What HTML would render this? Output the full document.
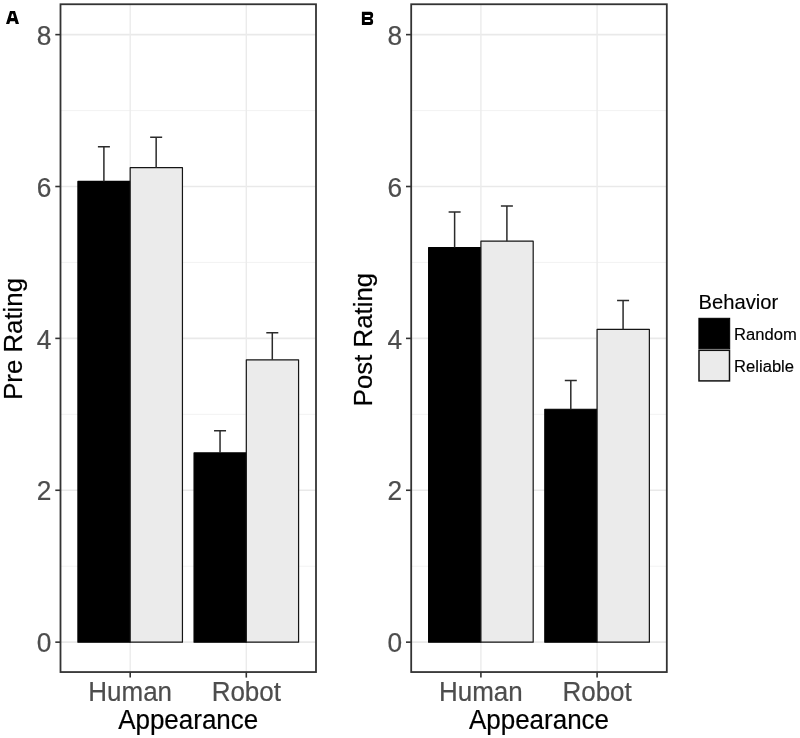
<!DOCTYPE html>
<html><head><meta charset="utf-8"><title>Figure</title>
<style>
html,body{margin:0;padding:0;background:#fff;}
svg{display:block;will-change:transform;font-family:"Liberation Sans",sans-serif;}
</style></head><body>
<svg width="800" height="738" viewBox="0 0 800 738">
<rect x="0" y="0" width="800" height="738" fill="#ffffff"/>

<line x1="60.5" x2="316.0" y1="566.21" y2="566.21" stroke="#f0f0f0" stroke-width="0.9"/>
<line x1="60.5" x2="316.0" y1="414.33" y2="414.33" stroke="#f0f0f0" stroke-width="0.9"/>
<line x1="60.5" x2="316.0" y1="262.45" y2="262.45" stroke="#f0f0f0" stroke-width="0.9"/>
<line x1="60.5" x2="316.0" y1="110.57" y2="110.57" stroke="#f0f0f0" stroke-width="0.9"/>
<line x1="60.5" x2="316.0" y1="642.15" y2="642.15" stroke="#e9e9e9" stroke-width="1.7"/>
<line x1="60.5" x2="316.0" y1="490.27" y2="490.27" stroke="#e9e9e9" stroke-width="1.7"/>
<line x1="60.5" x2="316.0" y1="338.39" y2="338.39" stroke="#e9e9e9" stroke-width="1.7"/>
<line x1="60.5" x2="316.0" y1="186.51" y2="186.51" stroke="#e9e9e9" stroke-width="1.7"/>
<line x1="60.5" x2="316.0" y1="34.63" y2="34.63" stroke="#e9e9e9" stroke-width="1.7"/>
<line x1="130.2" x2="130.2" y1="4.25" y2="672.0" stroke="#ebebeb" stroke-width="1.4"/>
<line x1="246.3" x2="246.3" y1="4.25" y2="672.0" stroke="#ebebeb" stroke-width="1.4"/>
<rect x="77.92" y="181.38" width="52.26" height="460.82" fill="#000000" stroke="#000" stroke-width="1.2" stroke-linejoin="round"/>
<rect x="130.18" y="167.70" width="52.26" height="474.50" fill="#ebebeb" stroke="#151515" stroke-width="1.2" stroke-linejoin="round"/>
<rect x="194.06" y="452.93" width="52.26" height="189.27" fill="#000000" stroke="#000" stroke-width="1.2" stroke-linejoin="round"/>
<rect x="246.32" y="359.83" width="52.26" height="282.37" fill="#ebebeb" stroke="#151515" stroke-width="1.2" stroke-linejoin="round"/>
<path d="M103.90 181.38V146.75M97.90 146.75H109.90" stroke="#2b2b2b" stroke-width="1.5" fill="none"/>
<path d="M156.16 167.70V137.30M150.16 137.30H162.16" stroke="#2b2b2b" stroke-width="1.5" fill="none"/>
<path d="M220.04 452.93V430.80M214.04 430.80H226.04" stroke="#2b2b2b" stroke-width="1.5" fill="none"/>
<path d="M272.30 359.83V332.80M266.30 332.80H278.30" stroke="#2b2b2b" stroke-width="1.5" fill="none"/>
<rect x="60.5" y="4.25" width="255.5" height="667.8" fill="none" stroke="#333" stroke-width="1.8"/>
<line x1="55.3" x2="60.5" y1="642.15" y2="642.15" stroke="#333" stroke-width="1.6"/>
<text transform="translate(51.3,652.2) scale(1,1.07)" font-size="26.3" fill="#4d4d4d" stroke="#4d4d4d" stroke-width="0.2" text-anchor="end">0</text>
<line x1="55.3" x2="60.5" y1="490.27" y2="490.27" stroke="#333" stroke-width="1.6"/>
<text transform="translate(51.3,500.4) scale(1,1.07)" font-size="26.3" fill="#4d4d4d" stroke="#4d4d4d" stroke-width="0.2" text-anchor="end">2</text>
<line x1="55.3" x2="60.5" y1="338.39" y2="338.39" stroke="#333" stroke-width="1.6"/>
<text transform="translate(51.3,348.5) scale(1,1.07)" font-size="26.3" fill="#4d4d4d" stroke="#4d4d4d" stroke-width="0.2" text-anchor="end">4</text>
<line x1="55.3" x2="60.5" y1="186.51" y2="186.51" stroke="#333" stroke-width="1.6"/>
<text transform="translate(51.3,196.6) scale(1,1.07)" font-size="26.3" fill="#4d4d4d" stroke="#4d4d4d" stroke-width="0.2" text-anchor="end">6</text>
<line x1="55.3" x2="60.5" y1="34.63" y2="34.63" stroke="#333" stroke-width="1.6"/>
<text transform="translate(51.3,44.7) scale(1,1.07)" font-size="26.3" fill="#4d4d4d" stroke="#4d4d4d" stroke-width="0.2" text-anchor="end">8</text>
<line x1="130.2" x2="130.2" y1="672.0" y2="677.6" stroke="#333" stroke-width="1.6"/>
<text transform="translate(130.2,700.5) scale(1,1.03)" font-size="26" fill="#4d4d4d" stroke="#4d4d4d" stroke-width="0.2" text-anchor="middle">Human</text>
<line x1="246.3" x2="246.3" y1="672.0" y2="677.6" stroke="#333" stroke-width="1.6"/>
<text transform="translate(246.3,700.5) scale(1,1.03)" font-size="26" fill="#4d4d4d" stroke="#4d4d4d" stroke-width="0.2" text-anchor="middle">Robot</text>
<text transform="translate(188.2,729) scale(1,1.03)" font-size="26" fill="#000" stroke="#000" stroke-width="0.2" text-anchor="middle">Appearance</text>
<text transform="translate(22.4,338.9) rotate(-90) scale(1,1.035)" font-size="25.8" fill="#000" stroke="#000" stroke-width="0.2" text-anchor="middle">Pre Rating</text>
<path fill-rule="evenodd" fill="#000" d="M10 10.9H15L19 24H15.7L14.9 21.3H10.1L9.3 24H6ZM12 13.8H13L14.1 18H10.9Z"/>
<line x1="411.2" x2="666.8" y1="566.21" y2="566.21" stroke="#f0f0f0" stroke-width="0.9"/>
<line x1="411.2" x2="666.8" y1="414.33" y2="414.33" stroke="#f0f0f0" stroke-width="0.9"/>
<line x1="411.2" x2="666.8" y1="262.45" y2="262.45" stroke="#f0f0f0" stroke-width="0.9"/>
<line x1="411.2" x2="666.8" y1="110.57" y2="110.57" stroke="#f0f0f0" stroke-width="0.9"/>
<line x1="411.2" x2="666.8" y1="642.15" y2="642.15" stroke="#e9e9e9" stroke-width="1.7"/>
<line x1="411.2" x2="666.8" y1="490.27" y2="490.27" stroke="#e9e9e9" stroke-width="1.7"/>
<line x1="411.2" x2="666.8" y1="338.39" y2="338.39" stroke="#e9e9e9" stroke-width="1.7"/>
<line x1="411.2" x2="666.8" y1="186.51" y2="186.51" stroke="#e9e9e9" stroke-width="1.7"/>
<line x1="411.2" x2="666.8" y1="34.63" y2="34.63" stroke="#e9e9e9" stroke-width="1.7"/>
<line x1="480.9" x2="480.9" y1="4.25" y2="672.0" stroke="#ebebeb" stroke-width="1.4"/>
<line x1="597.1" x2="597.1" y1="4.25" y2="672.0" stroke="#ebebeb" stroke-width="1.4"/>
<rect x="428.63" y="247.50" width="52.28" height="394.70" fill="#000000" stroke="#000" stroke-width="1.2" stroke-linejoin="round"/>
<rect x="480.91" y="241.19" width="52.28" height="401.01" fill="#ebebeb" stroke="#151515" stroke-width="1.2" stroke-linejoin="round"/>
<rect x="544.81" y="409.23" width="52.28" height="232.97" fill="#000000" stroke="#000" stroke-width="1.2" stroke-linejoin="round"/>
<rect x="597.09" y="329.28" width="52.28" height="312.92" fill="#ebebeb" stroke="#151515" stroke-width="1.2" stroke-linejoin="round"/>
<path d="M454.62 247.50V212.10M448.62 212.10H460.62" stroke="#2b2b2b" stroke-width="1.5" fill="none"/>
<path d="M506.90 241.19V205.90M500.90 205.90H512.90" stroke="#2b2b2b" stroke-width="1.5" fill="none"/>
<path d="M570.80 409.23V380.50M564.80 380.50H576.80" stroke="#2b2b2b" stroke-width="1.5" fill="none"/>
<path d="M623.08 329.28V300.60M617.08 300.60H629.08" stroke="#2b2b2b" stroke-width="1.5" fill="none"/>
<rect x="411.2" y="4.25" width="255.6" height="667.8" fill="none" stroke="#333" stroke-width="1.8"/>
<line x1="406.0" x2="411.2" y1="642.15" y2="642.15" stroke="#333" stroke-width="1.6"/>
<text transform="translate(402.0,652.2) scale(1,1.07)" font-size="26.3" fill="#4d4d4d" stroke="#4d4d4d" stroke-width="0.2" text-anchor="end">0</text>
<line x1="406.0" x2="411.2" y1="490.27" y2="490.27" stroke="#333" stroke-width="1.6"/>
<text transform="translate(402.0,500.4) scale(1,1.07)" font-size="26.3" fill="#4d4d4d" stroke="#4d4d4d" stroke-width="0.2" text-anchor="end">2</text>
<line x1="406.0" x2="411.2" y1="338.39" y2="338.39" stroke="#333" stroke-width="1.6"/>
<text transform="translate(402.0,348.5) scale(1,1.07)" font-size="26.3" fill="#4d4d4d" stroke="#4d4d4d" stroke-width="0.2" text-anchor="end">4</text>
<line x1="406.0" x2="411.2" y1="186.51" y2="186.51" stroke="#333" stroke-width="1.6"/>
<text transform="translate(402.0,196.6) scale(1,1.07)" font-size="26.3" fill="#4d4d4d" stroke="#4d4d4d" stroke-width="0.2" text-anchor="end">6</text>
<line x1="406.0" x2="411.2" y1="34.63" y2="34.63" stroke="#333" stroke-width="1.6"/>
<text transform="translate(402.0,44.7) scale(1,1.07)" font-size="26.3" fill="#4d4d4d" stroke="#4d4d4d" stroke-width="0.2" text-anchor="end">8</text>
<line x1="480.9" x2="480.9" y1="672.0" y2="677.6" stroke="#333" stroke-width="1.6"/>
<text transform="translate(480.9,700.5) scale(1,1.03)" font-size="26" fill="#4d4d4d" stroke="#4d4d4d" stroke-width="0.2" text-anchor="middle">Human</text>
<line x1="597.1" x2="597.1" y1="672.0" y2="677.6" stroke="#333" stroke-width="1.6"/>
<text transform="translate(597.1,700.5) scale(1,1.03)" font-size="26" fill="#4d4d4d" stroke="#4d4d4d" stroke-width="0.2" text-anchor="middle">Robot</text>
<text transform="translate(539.0,729) scale(1,1.03)" font-size="26" fill="#000" stroke="#000" stroke-width="0.2" text-anchor="middle">Appearance</text>
<text transform="translate(371.9,339.6) rotate(-90) scale(1,1.035)" font-size="25.8" fill="#000" stroke="#000" stroke-width="0.2" text-anchor="middle">Post Rating</text>
<path fill-rule="evenodd" fill="#000" d="M361.9 11.75H370.3Q373.1 12.1 373.1 14.6V15.7Q373.1 17.7 371.3 18.4Q373.1 19.1 373.1 21.1V22.2Q373.1 24.7 370.3 25H361.9ZM364.75 15H370.25V17H364.75ZM364.75 20H370.25V22H364.75Z"/>
<text transform="translate(698.6,309.2) scale(1,1.04)" font-size="20.2" fill="#000" stroke="#000" stroke-width="0.15">Behavior</text>
<rect x="698.9" y="318.3" width="30.8" height="30.4" fill="#000" stroke="#000" stroke-width="1"/>
<rect x="699" y="350.3" width="30.5" height="30.6" fill="#ebebeb" stroke="#111" stroke-width="1.5"/>
<text transform="translate(734.1,339.9) scale(1,1.04)" font-size="16.6" fill="#000" stroke="#000" stroke-width="0.15">Random</text>
<text transform="translate(734.1,371.6) scale(1,1.04)" font-size="16.6" fill="#000" stroke="#000" stroke-width="0.15">Reliable</text>
</svg></body></html>
